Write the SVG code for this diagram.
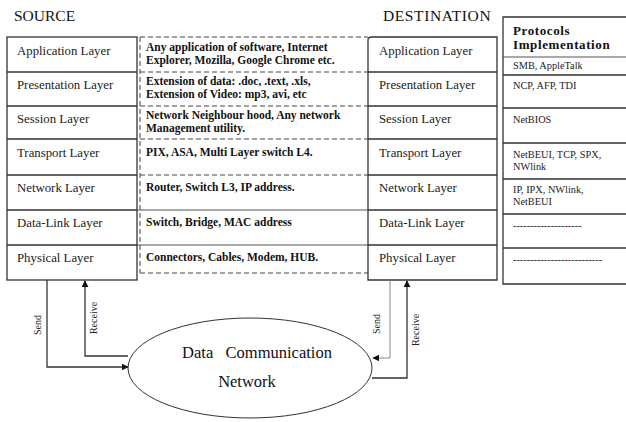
<svg xmlns="http://www.w3.org/2000/svg" width="626" height="422" viewBox="0 0 626 422">
<defs>
<style>
.ln{stroke:#333;stroke-width:1.3;fill:none}
.lt{stroke:#555;stroke-width:1;fill:none}
.ds{stroke:#444;stroke-width:1;fill:none;stroke-dasharray:5,3}
.ttl{font-family:"Liberation Serif",serif;font-size:15.5px;fill:#111}
.lay{font-family:"Liberation Serif",serif;font-size:12.8px;fill:#222}
.mid{font-family:"Liberation Serif",serif;font-size:11.5px;font-weight:bold;fill:#111}
.pr{font-family:"Liberation Serif",serif;font-size:10.3px;fill:#222}
.prh{font-family:"Liberation Serif",serif;font-size:13px;font-weight:bold;fill:#111;letter-spacing:0.6px}
.lbl{font-family:"Liberation Serif",serif;font-size:10px;fill:#222}
.net{font-family:"Liberation Serif",serif;font-size:16.5px;fill:#111}
</style>
<marker id="ah" viewBox="0 0 10 10" refX="9" refY="5" markerWidth="7" markerHeight="7" orient="auto" markerUnits="userSpaceOnUse">
<path d="M0,0 L10,5 L0,10 z" fill="#111"/>
</marker>
</defs>
<rect width="626" height="422" fill="#fff"/>

<g id="titles">
<text class="ttl" x="14" y="21">SOURCE</text>
<text class="ttl" x="383" y="21" style="letter-spacing:0.6px">DESTINATION</text>
</g>

<g id="source">
<rect class="ln" x="7" y="37" width="130" height="243"/>
<line class="ln" x1="7" y1="72" x2="137" y2="72"/>
<line class="ln" x1="7" y1="106" x2="137" y2="106"/>
<line class="ln" x1="7" y1="139" x2="137" y2="139"/>
<line class="ln" x1="7" y1="175" x2="137" y2="175"/>
<line class="ln" x1="7" y1="210" x2="137" y2="210"/>
<line class="ln" x1="7" y1="245" x2="137" y2="245"/>
<text class="lay" x="17" y="55">Application Layer</text>
<text class="lay" x="17" y="89">Presentation Layer</text>
<text class="lay" x="17" y="123">Session Layer</text>
<text class="lay" x="17" y="157">Transport Layer</text>
<text class="lay" x="17" y="192">Network Layer</text>
<text class="lay" x="17" y="227">Data-Link Layer</text>
<text class="lay" x="17" y="262">Physical Layer</text>
</g>

<g id="devices">
<line class="ds" x1="140" y1="37" x2="368" y2="37"/>
<line class="ds" x1="140" y1="72" x2="368" y2="72"/>
<line class="ds" x1="140" y1="106" x2="368" y2="106"/>
<line class="ds" x1="140" y1="139" x2="368" y2="139"/>
<line class="ds" x1="140" y1="175" x2="368" y2="175"/>
<line class="lt" x1="137" y1="210" x2="368" y2="210"/>
<line class="lt" x1="137" y1="245" x2="368" y2="245"/>
<line class="ds" x1="140" y1="273" x2="368" y2="273"/>
<line class="ds" x1="140" y1="37" x2="140" y2="273"/>
<text class="mid" x="146" y="51">Any application of software, Internet</text>
<text class="mid" x="146" y="64">Explorer, Mozilla, Google Chrome etc.</text>
<text class="mid" x="146" y="85">Extension of data: .doc, .text, .xls,</text>
<text class="mid" x="146" y="98">Extension of Video: mp3, avi, etc</text>
<text class="mid" x="146" y="119">Network Neighbour hood, Any network</text>
<text class="mid" x="146" y="132">Management utility.</text>
<text class="mid" x="146" y="156">PIX, ASA, Multi Layer switch L4.</text>
<text class="mid" x="146" y="191">Router, Switch L3, IP address.</text>
<text class="mid" x="146" y="226">Switch, Bridge, MAC address</text>
<text class="mid" x="146" y="261">Connectors, Cables, Modem, HUB.</text>
</g>

<g id="destination">
<path class="ln" d="M368,280 V40 Q368,37 372,37 H497 V280 Z"/>
<line class="ln" x1="368" y1="72" x2="497" y2="72"/>
<line class="ln" x1="368" y1="106" x2="497" y2="106"/>
<line class="ln" x1="368" y1="139" x2="497" y2="139"/>
<line class="ln" x1="368" y1="175" x2="497" y2="175"/>
<line class="ln" x1="368" y1="210" x2="497" y2="210"/>
<line class="ln" x1="368" y1="245" x2="497" y2="245"/>
<text class="lay" x="379" y="55">Application Layer</text>
<text class="lay" x="379" y="89">Presentation Layer</text>
<text class="lay" x="379" y="123">Session Layer</text>
<text class="lay" x="379" y="157">Transport Layer</text>
<text class="lay" x="379" y="192">Network Layer</text>
<text class="lay" x="379" y="227">Data-Link Layer</text>
<text class="lay" x="379" y="262">Physical Layer</text>
</g>

<g id="protocols">
<path class="ln" d="M630,17 H503 V284 H630"/>
<line class="lt" x1="503" y1="57" x2="630" y2="57"/>
<line class="ln" x1="503" y1="75" x2="630" y2="75"/>
<line class="ln" x1="503" y1="108" x2="630" y2="108"/>
<line class="ln" x1="503" y1="143" x2="630" y2="143"/>
<line class="ln" x1="503" y1="179" x2="630" y2="179"/>
<line class="ln" x1="503" y1="214" x2="630" y2="214"/>
<line class="ln" x1="503" y1="248" x2="630" y2="248"/>
<text class="prh" x="513" y="35">Protocols</text>
<text class="prh" x="513" y="49">Implementation</text>
<text class="pr" x="513" y="69">SMB, AppleTalk</text>
<text class="pr" x="513" y="89">NCP, AFP, TDI</text>
<text class="pr" x="513" y="123">NetBIOS</text>
<text class="pr" x="513" y="158">NetBEUI, TCP, SPX,</text>
<text class="pr" x="513" y="170">NWlink</text>
<text class="pr" x="513" y="193">IP, IPX, NWlink,</text>
<text class="pr" x="513" y="205">NetBEUI</text>
<text class="pr" x="513" y="229">--------------------</text>
<text class="pr" x="513" y="263">--------------------------</text>
</g>

<g id="network">
<ellipse class="ln" cx="250" cy="368" rx="122" ry="50" style="stroke-width:1"/>
<text class="net" x="257" y="358" text-anchor="middle" xml:space="preserve">Data   Communication</text>
<text class="net" x="247" y="387" text-anchor="middle">Network</text>
</g>

<g id="connectors">
<polyline class="ln" points="47,280 47,367 128,367" marker-end="url(#ah)"/>
<polyline class="ln" points="128,356 85,356 85,281" marker-end="url(#ah)"/>
<polyline class="lt" points="390,280 390,358 373,358" marker-end="url(#ah)" style="stroke:#888"/>
<polyline class="ln" points="372,378 407,378 407,281" marker-end="url(#ah)"/>
<text class="lbl" transform="translate(41,325) rotate(-90)" text-anchor="middle">Send</text>
<text class="lbl" transform="translate(97,318) rotate(-90)" text-anchor="middle">Receive</text>
<text class="lbl" transform="translate(380,324) rotate(-90)" text-anchor="middle">Send</text>
<text class="lbl" transform="translate(419,330) rotate(-90)" text-anchor="middle">Receive</text>
</g>
</svg>
